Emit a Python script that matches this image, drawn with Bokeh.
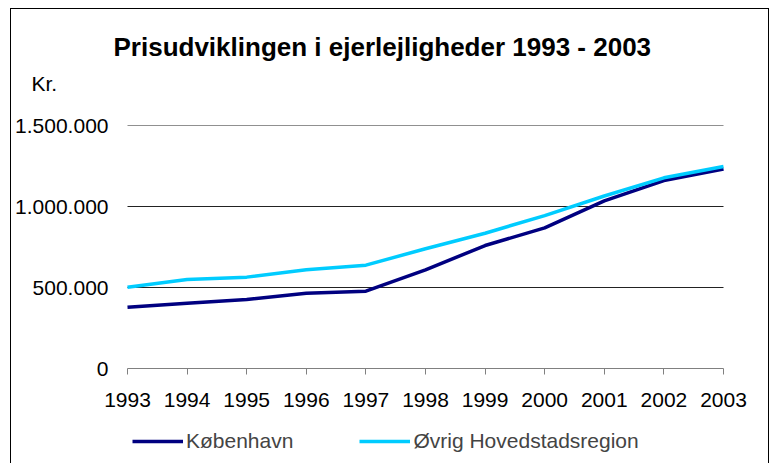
from bokeh.plotting import figure
from bokeh.models import (FixedTicker, Range1d, Title, Legend, LegendItem, ColumnDataSource)
from bokeh.embed import file_html
from bokeh.resources import INLINE

years = [1993, 1994, 1995, 1996, 1997, 1998, 1999, 2000, 2001, 2002, 2003]
koebenhavn = [378000, 403000, 426000, 465000, 477000, 609000, 759000, 868000, 1035000, 1160000, 1232000]
oevrig = [502000, 549000, 564000, 609000, 638000, 739000, 835000, 944000, 1065000, 1177000, 1247000]
series_names = ["København", "Øvrig Hovedstadsregion"]
y_ticks = [0, 500000, 1000000, 1500000]
y_tick_labels = ["0", "500.000", "1.000.000", "1.500.000"]
title_text = "Prisudviklingen i ejerlejligheder 1993 - 2003"
y_unit = "Kr."

FONT = "Liberation Sans"

# layout (pixels): data area 596 x 243, frame padded so tick labels and legend fit inside it
DATA_W, DATA_H, BELOW_H, SIDE_PAD = 596, 243, 95, 27
y_start = -y_ticks[-1] * BELOW_H / DATA_H
x_pad = (years[-1] - years[0]) * SIDE_PAD / DATA_W

p = figure(frame_width=DATA_W + 2 * SIDE_PAD, frame_height=DATA_H + BELOW_H,
           output_backend="svg", toolbar_location=None,
           x_range=Range1d(years[0] - x_pad, years[-1] + x_pad),
           y_range=Range1d(y_start, y_ticks[-1]),
           min_border_left=100, min_border_right=26, min_border_top=125, min_border_bottom=0)
p.outline_line_color = None
p.background_fill_color = "white"
p.border_fill_color = None
p.styles = {"background": (
    "linear-gradient(#000,#000) 10px 8px/1px 470px no-repeat,"
    "linear-gradient(#000,#000) 10px 8px/759px 1px no-repeat,"
    "linear-gradient(#000,#000) 768px 8px/1px 470px no-repeat,"
    "#ffffff")}

# horizontal gridlines limited to the data span
grid_vals = y_ticks[1:]
p.segment(x0=[years[0]] * len(grid_vals), y0=grid_vals,
          x1=[years[-1]] * len(grid_vals), y1=grid_vals,
          line_color="#222222", line_width=1)

src = ColumnDataSource(dict(x=years, k=koebenhavn, o=oevrig))
r1 = p.line("x", "k", source=src, line_color="#000080", line_width=3.5)
r2 = p.line("x", "o", source=src, line_color="#00CCFF", line_width=3.5)

# axes
p.xaxis.fixed_location = 0
p.xaxis.bounds = (years[0], years[-1])
p.xaxis.ticker = FixedTicker(ticks=years)
p.xaxis.axis_line_color = "#808080"
p.xaxis.major_tick_line_color = "#808080"
p.xaxis.major_tick_out = 6
p.xaxis.major_tick_in = 0
p.xaxis.minor_tick_line_color = None
p.xaxis.major_label_standoff = 18
p.xaxis.major_label_text_font = FONT
p.xaxis.major_label_text_font_size = "21px"
p.xaxis.major_label_text_color = "black"

p.yaxis.ticker = FixedTicker(ticks=y_ticks)
p.yaxis.major_label_overrides = {t: l for t, l in zip(y_ticks, y_tick_labels)}
p.yaxis.axis_line_color = None
p.yaxis.major_tick_line_color = None
p.yaxis.minor_tick_line_color = None
p.yaxis.major_tick_out = 0
p.yaxis.major_label_standoff = -8
p.yaxis.major_label_text_font = FONT
p.yaxis.major_label_text_font_size = "21px"
p.yaxis.major_label_text_color = "black"

p.xgrid.grid_line_color = None
p.ygrid.grid_line_color = None

# unit label (closest to frame) and main title, stacked above
p.add_layout(Title(text=y_unit + "\n ", align="left", offset=-69, standoff=16,
                   text_font=FONT, text_font_size="21px", text_font_style="normal",
                   text_color="black"), "above")
p.add_layout(Title(text=title_text, align="left", offset=13, standoff=0,
                   text_font=FONT, text_font_size="26px", text_font_style="bold",
                   text_color="black"), "above")

legend = Legend(items=[LegendItem(label=series_names[0], renderers=[r1]),
                       LegendItem(label=series_names[1], renderers=[r2])],
                orientation="horizontal", location=(32, 10),
                padding=0, margin=0, spacing=66, glyph_width=51, glyph_height=24,
                label_standoff=3, label_text_font=FONT, label_text_font_size="21px",
                label_height=24, border_line_color=None, background_fill_alpha=0)
p.add_layout(legend, "center")

open("out.html", "w").write(file_html(p, INLINE))
